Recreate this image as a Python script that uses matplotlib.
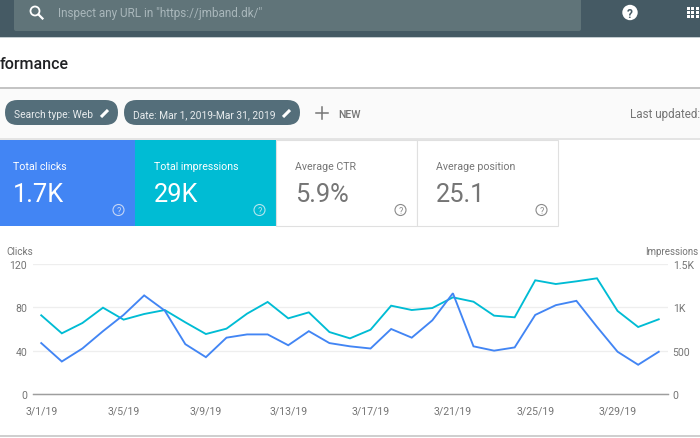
import numpy as np
import matplotlib.pyplot as plt
from matplotlib.patches import Rectangle, FancyBboxPatch, Circle

plt.rcParams['font.family'] = ['Roboto', 'DejaVu Sans']

##--------------------- DATA --------------------
days = np.arange(31)
clicks = [47, 30, 42, 58, 73, 91, 77, 46, 34, 52, 55, 55, 45, 58, 47, 44,
          42, 60, 52, 68, 93, 44, 40, 43, 73, 82, 86, 62, 39, 27, 39]
impressions = [908, 700, 819, 996, 858, 923, 969, 827, 692, 754, 927, 1062, 873, 942, 715, 642,
               742, 1019, 969, 992, 1115, 1065, 904, 885, 1312, 1269, 1300, 1335, 958, 773, 862]
tick_days = [0, 4, 8, 12, 16, 20, 24, 28]
tick_labels = ['3/1/19', '3/5/19', '3/9/19', '3/13/19', '3/17/19', '3/21/19', '3/25/19', '3/29/19']
clicks_ticks = [0, 40, 80, 120]
impr_ticks = [0, 500, 1000, 1500]
impr_labels = ['0', '500', '1K', '1.5K']
card_titles = ['Total clicks', 'Total impressions', 'Average CTR', 'Average position']
card_values = ['1.7K', '29K', '5.9%', '25.1']

BLUE = '#4285f4'
TEAL = '#00bcd4'
GREY = '#757575'
W, H = 700, 439

##--------------------- FUNCTIONS --------------------
def pencil(bg, x, y):
    bg.plot([x - 4, x + 3], [y + 4, y - 3], color='white', lw=2.2, solid_capstyle='butt', zorder=5)

def helpicon(bg, x, y, c):
    bg.add_patch(Circle((x, y), 5.5, fc='none', ec=c, lw=0.8, zorder=5))
    bg.text(x, y + 0.3, '?', color=c, fontsize=6.5, ha='center', va='center', zorder=6)

##--------------------- PAGE --------------------
fig = plt.figure(figsize=(W / 100, H / 100), dpi=100, facecolor='white')
bg = fig.add_axes([0, 0, 1, 1])
bg.set_xlim(0, W)
bg.set_ylim(H, 0)
bg.axis('off')

# top bar
bg.add_patch(Rectangle((0, 0), W, 38, fc='#455a64', ec='none'))
bg.add_patch(Rectangle((0, 38), W, 1, fc='#c3ccd0', ec='none'))
bg.add_patch(FancyBboxPatch((14, -5), 567, 37, boxstyle='round,pad=0,rounding_size=2', fc='#607479', ec='none'))
bg.add_patch(Circle((35, 12), 4.5, fc='none', ec='white', lw=1.3))
bg.plot([38.5, 42.5], [15.5, 19.5], color='white', lw=1.6)
bg.text(58, 14, 'Inspect any URL in "https://jmband.dk/"', color='#a9b7bb', fontsize=8.5, va='center')
bg.add_patch(Circle((630, 13.5), 7.7, fc='white', ec='none'))
bg.text(630, 14, '?', color='#455a64', fontsize=8.5, fontweight='bold', ha='center', va='center')
for gx in [-4.3, 0, 4.3]:
    for gy in [-4.3, 0, 4.3]:
        bg.add_patch(Rectangle((692.7 + gx - 1.5, 13.5 + gy - 1.5), 3, 3, fc='white', ec='none'))

# title
bg.text(0, 64.5, 'formance', color='#202124', fontsize=11.5, fontweight='medium', va='center')

# filter strip
bg.add_patch(Rectangle((0, 88), W, 2, fc='#c4c4c4', ec='none'))
bg.add_patch(Rectangle((0, 90), W, 50, fc='#fafafa', ec='none'))
bg.add_patch(Rectangle((0, 139), W, 2, fc='#e4e4e4', ec='none'))
chips = [(5, 113, 'Search type: Web', 14, 105), (124, 176, 'Date: Mar 1, 2019-Mar 31, 2019', 133, 287)]
for cx, cw, label, tx, px in chips:
    bg.add_patch(FancyBboxPatch((cx, 101), cw, 25, boxstyle='round,pad=0,rounding_size=12.5',
                                fc='#546e7a', ec='none', mutation_aspect=1))
    bg.text(tx, 115, label, color='#e8ecee', fontsize=7.35, va='center')
    pencil(bg, px, 114)
bg.plot([316, 328], [114, 114], color=GREY, lw=1.1)
bg.plot([322, 322], [108, 120], color=GREY, lw=1.1)
bg.text(338, 115, 'NEW', color=GREY, fontsize=7.6, fontweight='medium', va='center')
bg.text(630, 115, 'Last updated:', color=GREY, fontsize=8.4, va='center')

# metric cards
card_x = [0, 135, 276, 417]
card_w = [135, 141, 141, 141]
card_bg = [BLUE, TEAL, 'white', 'white']
for i in range(0, 4):
    on_colour = i < 2
    if on_colour:
        bg.add_patch(Rectangle((card_x[i], 141), card_w[i], 86, fc=card_bg[i], ec='none'))
    else:
        bg.add_patch(Rectangle((card_x[i], 140.5), card_w[i], 86.5, fc='white', ec='#e0e0e0', lw=0.8))
    c = 'white' if on_colour else GREY
    bg.text(card_x[i] + 13 if i == 0 else card_x[i] + 19, 167.5, card_titles[i], color=c, fontsize=7.7, va='center')
    bg.text(card_x[i] + 13 if i == 0 else card_x[i] + 19, 195, card_values[i], color=c, fontsize=18.3, va='center')
    hc = '#c6d6f5' if i == 0 else '#b5e6ee' if i == 1 else '#8a8a8a'
    helpicon(bg, card_x[i] + card_w[i] - 16.5, 211, hc)

# bottom edge
bg.add_patch(Rectangle((0, 436.5), W, 2, fc='#cfcfcf', ec='none'))

# axis titles
bg.text(6, 252, 'Clicks', color=GREY, fontsize=7.2, va='center')
bg.text(645.3, 252, 'Impressions', color=GREY, fontsize=7.0, va='center')

##--------------------- CHART --------------------
ax = fig.add_axes([33 / W, 1 - 395 / H, 635 / W, 130 / H])
ax2 = ax.twinx()
ax.set_zorder(ax2.get_zorder() + 1)
ax.patch.set_visible(False)
ax2.patch.set_visible(False)

ax.plot(days, clicks, color=BLUE, lw=1.35, solid_joinstyle='miter', clip_on=False)
ax2.plot(days, impressions, color=TEAL, lw=1.35, solid_joinstyle='miter', clip_on=False)

ax.set_xlim(-0.40, 30.45)
ax.set_ylim(0, 120)
ax2.set_ylim(0, 1500)
ax.set_xticks(tick_days)
ax.set_xticklabels(tick_labels)
ax.set_yticks(clicks_ticks)
ax2.set_yticks(impr_ticks)
ax2.set_yticklabels(impr_labels)
ax2.grid(False)
ax2.yaxis.grid(True, color='#eeeeee', lw=0.9)
ax2.set_axisbelow(True)

for a in [ax, ax2]:
    for s in ['top', 'left', 'right']:
        a.spines[s].set_visible(False)
    a.spines['bottom'].set_color('#9e9e9e')
    a.spines['bottom'].set_linewidth(0.9)
    a.tick_params(axis='both', length=0, colors=GREY, labelsize=7.6)
ax.tick_params(axis='x', pad=8)
ax.tick_params(axis='y', pad=4.3)
ax2.tick_params(axis='y', pad=3.4)

fig.savefig('out.png', dpi=100)
